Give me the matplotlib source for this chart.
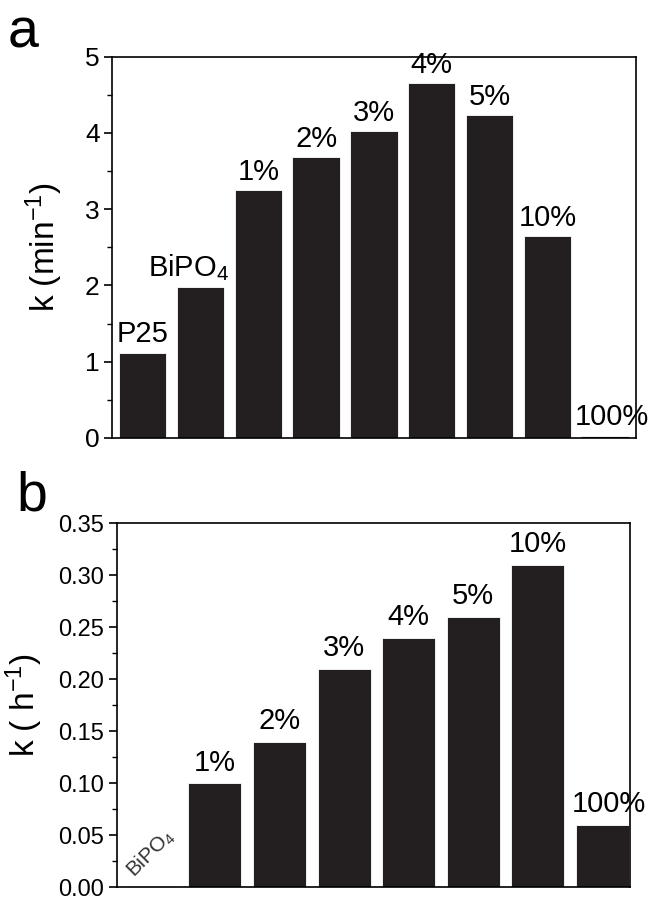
import numpy as np
import matplotlib
matplotlib.use("Agg")
import matplotlib.pyplot as plt
from matplotlib.ticker import MultipleLocator, FormatStrFormatter

plt.rcParams["font.family"] = ["Liberation Sans", "DejaVu Sans"]
plt.rcParams["mathtext.fontset"] = "custom"
plt.rcParams["mathtext.rm"] = "Liberation Sans"
plt.rcParams["mathtext.it"] = "Liberation Sans"

# Panel a data
labels_a = ["P25", "BiPO$_4$", "1%", "2%", "3%", "4%", "5%", "10%", "100%"]
k_min = [1.12, 1.98, 3.25, 3.68, 4.02, 4.65, 4.24, 2.65, 0.03]

# Panel b data
labels_b = ["BiPO$_4$", "1%", "2%", "3%", "4%", "5%", "10%", "100%"]
k_h = [0.001, 0.10, 0.14, 0.21, 0.24, 0.26, 0.31, 0.06]

bar_color = "#231f20"

fig = plt.figure(figsize=(6.49, 9.01), dpi=100)
ax_a = fig.add_axes([0.1726, 0.514, 0.807, 0.423])
ax_b = fig.add_axes([0.180, 0.015, 0.791, 0.404])

# --- panel a ---
xa = np.arange(len(k_min))
ax_a.bar(xa, k_min, width=0.82, color=bar_color, edgecolor="white", linewidth=0.6)
ax_a.set_xlim(-0.53, 8.53)
ax_a.set_ylim(0, 5)
ax_a.yaxis.set_major_locator(MultipleLocator(1))
ax_a.yaxis.set_minor_locator(MultipleLocator(0.5))
ax_a.set_xticks([])
ax_a.tick_params(axis="y", which="major", length=6, width=1.2, labelsize=19, pad=3)
ax_a.tick_params(axis="y", which="minor", length=3.5, width=1.0)
ax_a.set_ylabel("k (min$^{-1}$)", fontsize=24, labelpad=14)
for s in ax_a.spines.values():
    s.set_linewidth(1.2)

shift_a = [0, -0.2, 0, 0, 0, 0, 0, 0, 0.12]
for i, (lab, h) in enumerate(zip(labels_a, k_min)):
    ax_a.annotate(lab, (xa[i] + shift_a[i], h), xytext=(0, 3), textcoords="offset points",
                  ha="center", va="bottom", fontsize=21)

fig.text(0.012, 0.992, "a", fontsize=40, ha="left", va="top")

# --- panel b ---
xb = np.arange(len(k_h))
ax_b.bar(xb, k_h, width=0.82, color=bar_color, edgecolor="white", linewidth=0.6)
ax_b.set_xlim(-0.52, 7.43)
ax_b.set_ylim(0, 0.35)
ax_b.yaxis.set_major_locator(MultipleLocator(0.05))
ax_b.yaxis.set_minor_locator(MultipleLocator(0.025))
ax_b.yaxis.set_major_formatter(FormatStrFormatter("%.2f"))
ax_b.set_xticks([])
ax_b.tick_params(axis="y", which="major", length=6, width=1.2, labelsize=17, pad=3)
ax_b.tick_params(axis="y", which="minor", length=3.5, width=1.0)
ax_b.set_ylabel("k ( h$^{-1}$)", fontsize=24, labelpad=10)
for s in ax_b.spines.values():
    s.set_linewidth(1.2)

for i, (lab, h) in enumerate(zip(labels_b, k_h)):
    if i == 0:
        ax_b.annotate(lab, (xb[i], h), xytext=(0, 3), textcoords="offset points",
                      ha="center", va="bottom", fontsize=15, rotation=45, color="#333333")
    else:
        dx = 0.1 if i == len(k_h) - 1 else 0
        ax_b.annotate(lab, (xb[i] + dx, h), xytext=(0, 5), textcoords="offset points",
                      ha="center", va="bottom", fontsize=21)

fig.text(0.025, 0.478, "b", fontsize=40, ha="left", va="top")

fig.savefig("out.png", dpi=100, facecolor="white")
